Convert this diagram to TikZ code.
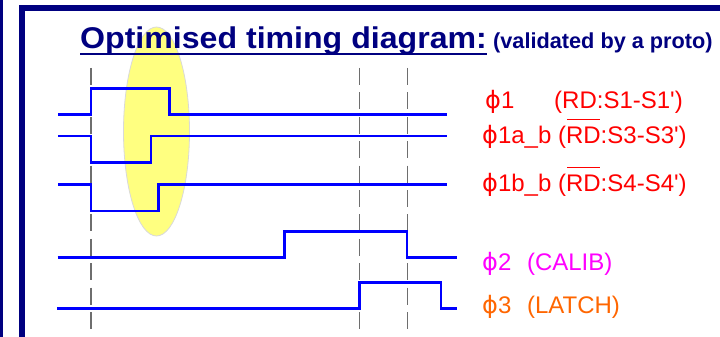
\documentclass[tikz,border=0pt]{standalone}
\usepackage{fontspec}
\setmainfont{Liberation Sans}
\newfontfamily\phifont{DejaVu Sans}
\newcommand\phisym{{\phifont ϕ}}
\newcommand\ovl[1]{\setbox0\hbox{#1}\kern1pt\rlap{\rule[0.95em]{\dimexpr\wd0-2pt\relax}{1.7pt}}\kern-1pt#1}
\definecolor{navy}{HTML}{000080}
\definecolor{sigblue}{HTML}{0000FF}
\definecolor{lblred}{HTML}{FF0000}
\definecolor{lblmag}{HTML}{FF00FF}
\definecolor{lblorange}{HTML}{FF6600}
\definecolor{hlyellow}{HTML}{FFFF80}
\definecolor{guidegray}{HTML}{6E6E6E}
\begin{document}
\begin{tikzpicture}[x=1pt,y=-1pt,
  sig/.style={draw=sigblue, line width=2.6pt, line join=miter},
  guide/.style={draw=guidegray, line width=1.6pt, dash pattern=on 17pt off 7.4pt},
  lbl/.style={anchor=base west, inner sep=0pt, font=\fontsize{24}{28}\selectfont},
  ttl/.style={anchor=base west, inner sep=0pt, text=navy},
]
\useasboundingbox (0,0) rectangle (720,337);
\fill[white] (0,0) rectangle (720,337);
% frame
\draw[navy, line width=2.6pt] (1.3,-5) -- (1.3,345);
\draw[navy, line width=6pt, line join=miter] (730,8.3) -- (22.3,8.3) -- (22.3,345);
% highlight ellipse
\draw[draw=black!15, fill=hlyellow, line width=0.8pt] (156.5,131.5) ellipse [x radius=33pt, y radius=104.5pt];
% guide lines
\foreach \x [count=\i] in {91,359.3,407.3}
  \draw[guide] (\x,68) coordinate (g\i) -- (\x,329);
% signals
\draw[sig] (58,114.3) -- (91,114.3) -- (91,88.3) -- (169.3,88.3) -- (169.3,114.3) -- (447,114.3);
\draw[sig] (58,136) -- (91,136) -- (91,162.3) -- (151,162.3) -- (151,136) -- (447,136);
\draw[sig] (58,184.3) -- (91,184.3) -- (91,211) -- (158.3,211) -- (158.3,184.3) -- (447,184.3);
\draw[sig] (57.5,257.3) -- (284.7,257.3) -- (284.7,231.7) -- (407,231.7) -- (407,257.3) -- (456.7,257.3);
\draw[sig] (57,308.3) -- (359.3,308.3) -- (359.3,282.7) -- (441,282.7) -- (441,308.3) -- (456.7,308.3);
% title
\node[ttl, font=\bfseries\fontsize{30}{36}\selectfont] (title) at (80,48.5) {\scalebox{1.07}[1]{Optimised timing diagram:}};
\draw[navy, line width=2.7pt] ([yshift=-5.5pt]title.base west) -- ([yshift=-5.5pt]title.base east);
\node[ttl, font=\bfseries\fontsize{21.7}{26}\selectfont] (sub) at (493,48.5) {(validated by a proto)};
% labels
\node[lbl, text=lblred] (p1) at (485,108) {\phisym1};
\node[lbl, text=lblred] (p1rd) at (554,108) {(RD:S1-S1\textquotesingle)};
\node[lbl, text=lblred] (p1a) at (482,143) {\phisym1a\_b (\ovl{RD}:S3-S3\textquotesingle)};
\node[lbl, text=lblred] (p1b) at (482,191) {\phisym1b\_b (\ovl{RD}:S4-S4\textquotesingle)};
\node[lbl, text=lblmag] (p2) at (482,270.5) {\phisym2\hspace{9pt} (CALIB)};
\node[lbl, text=lblorange] (p3) at (482,313.5) {\phisym3\hspace{9pt} (LATCH)};
\end{tikzpicture}
\end{document}
